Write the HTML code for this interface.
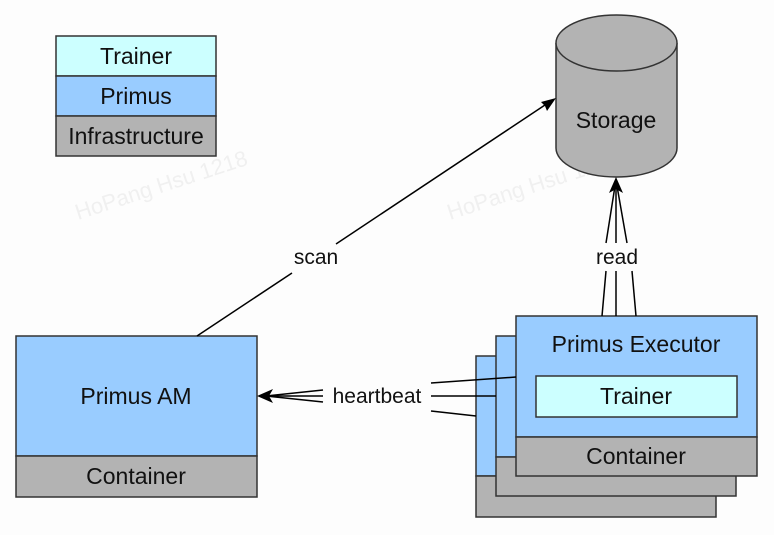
<!DOCTYPE html>
<html><head><style>
body{margin:0;background:#fff;}
svg text{font-family:"Liberation Sans",Arial,sans-serif;}
</style></head><body>
<svg width="774" height="535" viewBox="0 0 774 535" xmlns="http://www.w3.org/2000/svg">
<rect width="774" height="535" fill="#fdfdfd"/>
<g fill="#f0f0f0" font-size="22">
<text transform="translate(78,220) rotate(-18)">HoPang Hsu 1218</text>
<text transform="translate(450,220) rotate(-18)">HoPang Hsu 1218</text>
</g>
<g stroke="#333" stroke-width="1.5">
<rect x="56" y="36" width="160" height="40" fill="#ccffff"/>
<rect x="56" y="76" width="160" height="40" fill="#99ccff"/>
<rect x="56" y="116" width="160" height="40" fill="#b3b3b3"/>
<rect x="16" y="336" width="241" height="120" fill="#99ccff"/>
<rect x="16" y="456" width="241" height="41" fill="#b3b3b3"/>
<rect x="476" y="356" width="240" height="120" fill="#99ccff"/>
<rect x="476" y="476" width="240" height="41" fill="#b3b3b3"/>
<rect x="496" y="336" width="240" height="121" fill="#99ccff"/>
<rect x="496" y="457" width="240" height="39" fill="#b3b3b3"/>
<rect x="516" y="316" width="241" height="121" fill="#99ccff"/>
<rect x="516" y="437" width="241" height="39" fill="#b3b3b3"/>
<rect x="536" y="376" width="201" height="41" fill="#ccffff"/>
<path d="M556,43 L556,148 A60.5,29 0 0 0 677,148 L677,43" fill="#b3b3b3"/>
<ellipse cx="616.5" cy="43" rx="60.5" ry="28" fill="#b3b3b3"/>
</g>
<g stroke="#000" stroke-width="1.5" fill="none">
<line x1="197" y1="336" x2="292" y2="273"/>
<line x1="336" y1="244" x2="548" y2="103"/>
<line x1="602" y1="316" x2="606" y2="271"/>
<line x1="616" y1="316" x2="616" y2="271"/>
<line x1="636" y1="316" x2="632" y2="271"/>
<line x1="606" y1="243" x2="615" y2="186"/>
<line x1="616" y1="243" x2="616" y2="186"/>
<line x1="627" y1="243" x2="617" y2="186"/>
<line x1="516" y1="377" x2="431" y2="383"/>
<line x1="496" y1="396" x2="431" y2="396"/>
<line x1="476" y1="416" x2="431" y2="411"/>
<line x1="323" y1="390" x2="266" y2="396"/>
<line x1="323" y1="396" x2="266" y2="396"/>
<line x1="323" y1="402" x2="266" y2="396"/>
</g>
<g fill="#000">
<path d="M556,98 L541,102 L545,106 L547,111 Z"/>
<path d="M616,177 L609,193 L616,189 L623,193 Z"/>
<path d="M257,396 L273,389 L269,396 L273,403 Z"/>
</g>
<g font-size="23" text-anchor="middle" fill="#111">
<text x="136" y="64">Trainer</text>
<text x="136" y="104">Primus</text>
<text x="136" y="144">Infrastructure</text>
<text x="136" y="404">Primus AM</text>
<text x="136" y="484">Container</text>
<text x="636" y="352">Primus Executor</text>
<text x="636" y="404">Trainer</text>
<text x="636" y="464">Container</text>
<text x="616" y="128">Storage</text>
</g>
<g font-size="21" text-anchor="middle" fill="#111">
<text x="316" y="264">scan</text>
<text x="617" y="264">read</text>
<text x="377" y="403">heartbeat</text>
</g>
</svg>
</body></html>
